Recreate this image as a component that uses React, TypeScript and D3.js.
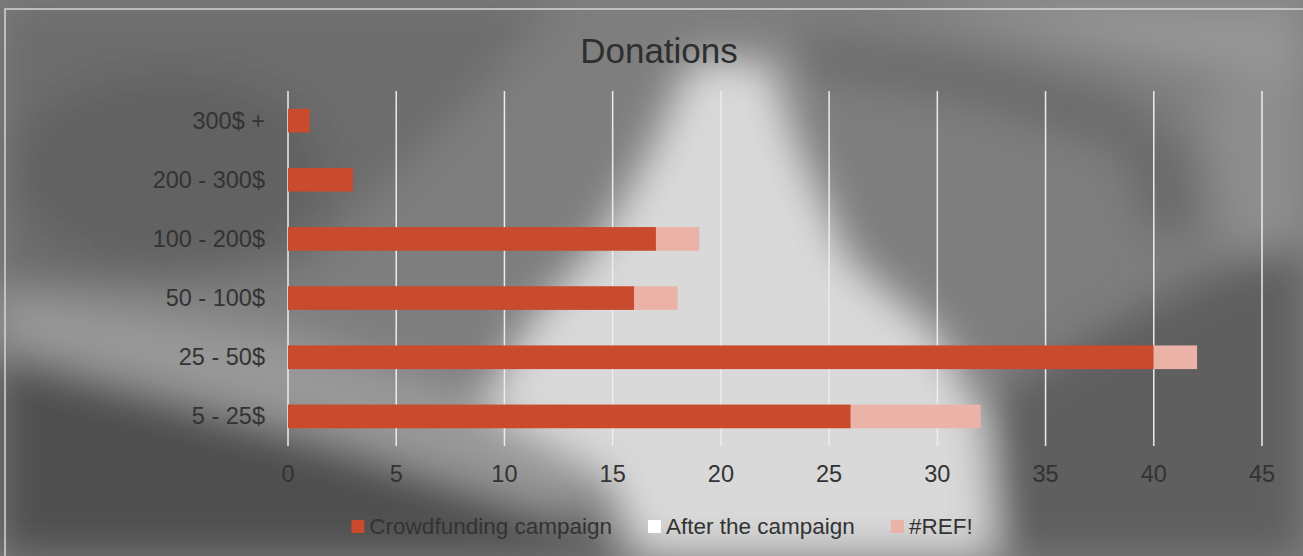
import React, { useEffect, useRef } from "react";
import * as d3 from "d3";

const categories = ["5 - 25$", "25 - 50$", "50 - 100$", "100 - 200$", "200 - 300$", "300$ +"];
const crowdfunding = [26, 40, 16, 17, 3, 1];
const afterCampaign = [0, 0, 0, 0, 0, 0];
const refSeries = [6, 2, 2, 2, 0, 0];
const xTicks = [0, 5, 10, 15, 20, 25, 30, 35, 40, 45];
const seriesNames = ["Crowdfunding campaign", "After the campaign", "#REF!"];
const seriesColors = ["#C94A2C", "#FFFFFF", "#EBB3A7"];

const W = 1303;
const H = 556;
const FONT = "'Liberation Sans', Arial, sans-serif";
const LABEL_SIZE = 23.5;
const LEGEND_SIZE = 22.5;

export default function App() {
  const ref = useRef<SVGSVGElement | null>(null);

  useEffect(() => {
    document.body.style.margin = "0";
    const svg = d3.select(ref.current);
    svg.selectAll("*").remove();

    // background approximation of the photo
    const defs = svg.append("defs");
    const f = defs.append("filter").attr("id", "blur").attr("x", "-20%").attr("y", "-20%").attr("width", "140%").attr("height", "140%");
    f.append("feGaussianBlur").attr("stdDeviation", 20);

    svg.append("rect").attr("width", W).attr("height", H).attr("fill", "#7e7e7e");
    const bg = svg.append("g").attr("filter", "url(#blur)");
    const poly = (pts: number[][], fill: string) =>
      bg.append("polygon").attr("points", pts.map((p) => p.join(",")).join(" ")).attr("fill", fill);
    poly([[0, 0], [560, 0], [480, 90], [300, 270], [0, 290]], "#6d6d6d");
    bg.append("ellipse").attr("cx", 170).attr("cy", 170).attr("rx", 160).attr("ry", 100).attr("fill", "#626262");
    poly([[900, 0], [1303, 0], [1303, 90], [1150, 60]], "#959595");
    poly([[1200, 90], [1303, 80], [1303, 240], [1230, 250]], "#8e8e8e");
    poly([[800, 35], [960, 55], [1120, 95], [1190, 150], [1200, 230], [1150, 240], [1120, 150], [960, 100], [810, 75]], "#6a6a6a");
    poly([[0, 290], [300, 335], [480, 395], [610, 470], [560, 510], [300, 430], [0, 350]], "#989898");
    poly([[0, 352], [150, 395], [330, 445], [520, 510], [680, 556], [0, 556]], "#505050");
    poly([[1303, 250], [1220, 270], [1120, 320], [990, 400], [1000, 556], [1303, 556]], "#5e5e5e");
    poly([[690, 60], [770, 60], [800, 150], [850, 260], [935, 330], [985, 420], [995, 556], [640, 556], [600, 470], [480, 405], [530, 320], [600, 240], [650, 150]], "#d9d9d9");

    // frame
    svg.append("rect").attr("x", 5).attr("y", 9).attr("width", W + 20).attr("height", H + 20)
      .attr("fill", "none").attr("stroke", "#d6d6d6").attr("stroke-width", 1.5);

    const margin = { left: 288, right: W - 1262, top: 91, bottom: H - 446 };
    const x = d3.scaleLinear().domain([0, 45]).range([margin.left, W - margin.right]);
    const y = d3.scaleBand<string>().domain([...categories].reverse()).range([margin.top, H - margin.bottom])
      .paddingInner(0.6).paddingOuter(0.3);

    // gridlines
    svg.append("g").selectAll("line").data(xTicks).join("line")
      .attr("x1", (d) => x(d)).attr("x2", (d) => x(d))
      .attr("y1", margin.top).attr("y2", H - margin.bottom)
      .attr("stroke", "#ececec").attr("stroke-width", 1.5);

    // stacked bars
    const stackData = categories.map((c, i) => ({ c, s0: crowdfunding[i], s1: afterCampaign[i], s2: refSeries[i] }));
    const stack = d3.stack<any>().keys(["s0", "s1", "s2"])(stackData);
    stack.forEach((layer, li) => {
      svg.append("g").selectAll("rect").data(layer).join("rect")
        .attr("x", (d) => x(d[0]))
        .attr("width", (d) => Math.max(0, x(d[1]) - x(d[0])))
        .attr("y", (d) => y((d.data as any).c) as number)
        .attr("height", y.bandwidth())
        .attr("fill", seriesColors[li]);
    });

    // y labels
    svg.append("g").selectAll("text").data(categories).join("text")
      .attr("x", margin.left - 23)
      .attr("y", (d) => (y(d) as number) + y.bandwidth() / 2)
      .attr("dy", "0.34em")
      .attr("text-anchor", "end")
      .attr("font-family", FONT).attr("font-size", LABEL_SIZE).attr("fill", "#333")
      .text((d) => d);

    // x labels
    svg.append("g").selectAll("text").data(xTicks).join("text")
      .attr("x", (d) => x(d)).attr("y", 482)
      .attr("text-anchor", "middle")
      .attr("font-family", FONT).attr("font-size", LABEL_SIZE).attr("fill", "#333")
      .text((d) => String(d));

    // title
    svg.append("text").attr("x", 659).attr("y", 62.5).attr("text-anchor", "middle")
      .attr("font-family", FONT).attr("font-size", 35).attr("fill", "#2e2e2e").text("Donations");

    // legend
    const lg = svg.append("g");
    const items = seriesNames.map((n, i) => {
      const g = lg.append("g");
      g.append("rect").attr("width", 13).attr("height", 13).attr("y", -14).attr("fill", seriesColors[i]);
      const t = g.append("text").attr("x", 18).attr("y", 0).attr("font-family", FONT).attr("font-size", LEGEND_SIZE)
        .attr("fill", "#333").text(n);
      const w = 18 + (t.node() as SVGTextElement).getComputedTextLength();
      return { g, w };
    });
    const gap = 36;
    const total = items.reduce((s, it) => s + it.w, 0) + gap * (items.length - 1);
    let cx = 662 - total / 2;
    items.forEach((it) => {
      it.g.attr("transform", `translate(${cx},534)`);
      cx += it.w + gap;
    });
  }, []);

  return (
    <div style={{ position: "fixed", left: 0, top: 0 }}>
      <svg ref={ref} width={W} height={H} style={{ display: "block" }} />
    </div>
  );
}
